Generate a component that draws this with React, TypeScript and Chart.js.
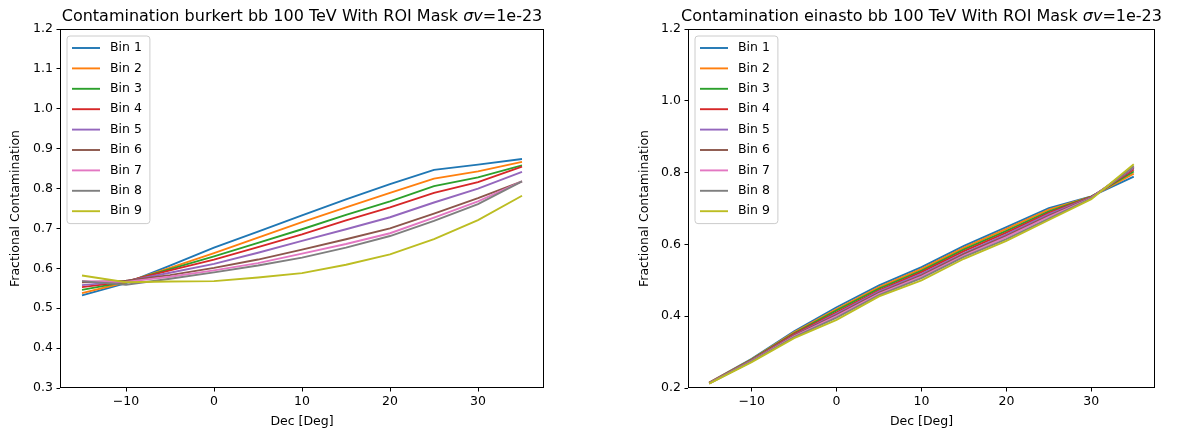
import React, { useEffect, useRef } from "react";
import { Chart, registerables } from "chart.js";

Chart.register(...registerables);

// ---- data ----
const decValues = [-15, -10, -5, 0, 5, 10, 15, 20, 25, 30, 35];
const xTicks = [-10, 0, 10, 20, 30];
const binLabels = ["Bin 1", "Bin 2", "Bin 3", "Bin 4", "Bin 5", "Bin 6", "Bin 7", "Bin 8", "Bin 9"];
const binColors = ["#1f77b4", "#ff7f0e", "#2ca02c", "#d62728", "#9467bd", "#8c564b", "#e377c2", "#7f7f7f", "#bcbd22"];

const burkertBin1 = [0.532, 0.563, 0.607, 0.652, 0.692, 0.733, 0.773, 0.811, 0.847, 0.860, 0.874];
const burkertBin2 = [0.538, 0.565, 0.601, 0.638, 0.677, 0.716, 0.753, 0.789, 0.825, 0.843, 0.867];
const burkertBin3 = [0.546, 0.566, 0.598, 0.630, 0.664, 0.698, 0.734, 0.768, 0.806, 0.828, 0.858];
const burkertBin4 = [0.553, 0.567, 0.595, 0.622, 0.653, 0.685, 0.720, 0.753, 0.789, 0.816, 0.855];
const burkertBin5 = [0.558, 0.568, 0.589, 0.611, 0.639, 0.669, 0.698, 0.728, 0.765, 0.800, 0.842];
const burkertBin6 = [0.565, 0.569, 0.583, 0.601, 0.622, 0.647, 0.673, 0.700, 0.737, 0.776, 0.818];
const burkertBin7 = [0.568, 0.566, 0.579, 0.595, 0.613, 0.637, 0.661, 0.688, 0.727, 0.768, 0.818];
const burkertBin8 = [0.568, 0.559, 0.574, 0.590, 0.607, 0.627, 0.652, 0.681, 0.719, 0.761, 0.818];
const burkertBin9 = [0.582, 0.565, 0.567, 0.568, 0.577, 0.588, 0.609, 0.635, 0.673, 0.721, 0.782];

const einastoBin1 = [0.215, 0.281, 0.358, 0.425, 0.486, 0.537, 0.596, 0.648, 0.701, 0.734, 0.789];
const einastoBin2 = [0.215, 0.280, 0.355, 0.420, 0.481, 0.532, 0.591, 0.643, 0.697, 0.733, 0.797];
const einastoBin3 = [0.214, 0.279, 0.352, 0.416, 0.477, 0.527, 0.586, 0.638, 0.692, 0.733, 0.803];
const einastoBin4 = [0.214, 0.278, 0.350, 0.411, 0.472, 0.523, 0.581, 0.633, 0.688, 0.732, 0.809];
const einastoBin5 = [0.214, 0.277, 0.347, 0.407, 0.469, 0.518, 0.576, 0.628, 0.684, 0.731, 0.813];
const einastoBin6 = [0.213, 0.276, 0.346, 0.404, 0.466, 0.514, 0.573, 0.624, 0.680, 0.730, 0.815];
const einastoBin7 = [0.213, 0.275, 0.344, 0.400, 0.462, 0.510, 0.569, 0.620, 0.677, 0.729, 0.817];
const einastoBin8 = [0.213, 0.274, 0.342, 0.396, 0.459, 0.506, 0.565, 0.615, 0.672, 0.728, 0.818];
const einastoBin9 = [0.212, 0.272, 0.339, 0.390, 0.455, 0.500, 0.560, 0.610, 0.668, 0.726, 0.823];

const burkertSeries = [burkertBin1, burkertBin2, burkertBin3, burkertBin4, burkertBin5, burkertBin6, burkertBin7, burkertBin8, burkertBin9];
const einastoSeries = [einastoBin1, einastoBin2, einastoBin3, einastoBin4, einastoBin5, einastoBin6, einastoBin7, einastoBin8, einastoBin9];

const FONT = "'DejaVu Sans', sans-serif";
const SMALL = 12.5;

type PanelProps = {
  profile: string;
  series: number[][];
  yMin: number;
  yMax: number;
  yStep: number;
  left: number;
  width: number;
  yAxisWidth: number;
  padRight: number;
  yTitlePad: number;
};

function Panel(p: PanelProps) {
  const ref = useRef<HTMLCanvasElement | null>(null);
  useEffect(() => {
    if (!ref.current) return;
    const overlay = {
      id: "mplOverlay",
      afterDraw(chart: any) {
        const ctx = chart.ctx as CanvasRenderingContext2D;
        const ca = chart.chartArea;
        ctx.save();
        // frame
        ctx.strokeStyle = "#000";
        ctx.lineWidth = 1;
        ctx.strokeRect(Math.round(ca.left) + 0.5, Math.round(ca.top) + 0.5, Math.round(ca.right - ca.left) - 1, Math.round(ca.bottom - ca.top) - 1);
        // legend
        ctx.font = `${SMALL}px ${FONT}`;
        let maxW = 0;
        binLabels.forEach((l) => (maxW = Math.max(maxW, ctx.measureText(l).width)));
        const bx = ca.left + 7;
        const by = ca.top + 7;
        const rowH = 20.4;
        const bw = 43 + maxW + 8;
        const bh = rowH * binLabels.length + 4;
        ctx.beginPath();
        const r = 3;
        ctx.moveTo(bx + r, by);
        ctx.lineTo(bx + bw - r, by);
        ctx.arcTo(bx + bw, by, bx + bw, by + r, r);
        ctx.lineTo(bx + bw, by + bh - r);
        ctx.arcTo(bx + bw, by + bh, bx + bw - r, by + bh, r);
        ctx.lineTo(bx + r, by + bh);
        ctx.arcTo(bx, by + bh, bx, by + bh - r, r);
        ctx.lineTo(bx, by + r);
        ctx.arcTo(bx, by, bx + r, by, r);
        ctx.closePath();
        ctx.fillStyle = "rgba(255,255,255,0.8)";
        ctx.fill();
        ctx.strokeStyle = "#cccccc";
        ctx.stroke();
        binLabels.forEach((l, i) => {
          const cy = by + 12 + i * rowH;
          ctx.strokeStyle = binColors[i];
          ctx.lineWidth = 1.9;
          ctx.beginPath();
          ctx.moveTo(bx + 5, cy);
          ctx.lineTo(bx + 33, cy);
          ctx.stroke();
          ctx.fillStyle = "#000";
          ctx.textBaseline = "middle";
          ctx.textAlign = "left";
          ctx.fillText(l, bx + 43, cy);
        });
        // title with italic sigma-v
        const pre = `Contamination ${p.profile} bb 100 TeV With ROI Mask `;
        const it = "\u03c3v";
        const post = "=1e-23";
        const normal = `16px ${FONT}`;
        const ital = `italic 16px ${FONT}`;
        ctx.font = normal;
        const w1 = ctx.measureText(pre).width;
        const w3 = ctx.measureText(post).width;
        ctx.font = ital;
        const w2 = ctx.measureText(it).width;
        const total = w1 + w2 + w3;
        let x = (ca.left + ca.right) / 2 - total / 2;
        const y = 20.5;
        ctx.fillStyle = "#000";
        ctx.textBaseline = "alphabetic";
        ctx.textAlign = "left";
        ctx.font = normal;
        ctx.fillText(pre, x, y);
        x += w1;
        ctx.font = ital;
        ctx.fillText(it, x, y);
        x += w2;
        ctx.font = normal;
        ctx.fillText(post, x, y);
        ctx.restore();
      },
    };
    const chart = new Chart(ref.current, {
      type: "line",
      data: {
        datasets: p.series.map((vals, i) => ({
          label: binLabels[i],
          data: decValues.map((d, j) => ({ x: d, y: vals[j] })),
          borderColor: binColors[i],
          backgroundColor: binColors[i],
          borderWidth: 1.9,
          pointRadius: 0,
          fill: false,
          tension: 0,
          order: p.series.length - 1 - i,
        })),
      },
      options: {
        responsive: false,
        animation: false,
        devicePixelRatio: 1,
        layout: { padding: { top: 29, right: p.padRight, bottom: 0, left: 0 } },
        plugins: { legend: { display: false }, tooltip: { enabled: false }, title: { display: false } },
        scales: {
          x: {
            type: "linear",
            min: -17.5,
            max: 37.5,
            afterBuildTicks: (s: any) => {
              s.ticks = xTicks.map((v) => ({ value: v }));
            },
            afterFit: (s: any) => {
              s.height = 47;
            },
            ticks: {
              autoSkip: false,
              maxRotation: 0,
              padding: 3,
              color: "#000",
              font: { family: FONT, size: SMALL },
              callback: (v: any) => (Number(v) < 0 ? "\u2212" + Math.abs(Number(v)) : String(v)),
            },
            grid: { drawOnChartArea: false, drawTicks: true, tickLength: 3.5, color: "#000", lineWidth: 1 },
            border: { display: false },
            title: { display: true, text: "Dec [Deg]", color: "#000", font: { family: FONT, size: SMALL }, padding: { top: 0, bottom: 5.5 } },
          },
          y: {
            type: "linear",
            min: p.yMin,
            max: p.yMax,
            afterFit: (s: any) => {
              s.width = p.yAxisWidth;
            },
            ticks: {
              stepSize: p.yStep,
              padding: 3.5,
              color: "#000",
              font: { family: FONT, size: SMALL },
              callback: (v: any) => Number(v).toFixed(1),
            },
            grid: { drawOnChartArea: false, drawTicks: true, tickLength: 3.5, color: "#000", lineWidth: 1 },
            border: { display: false },
            title: { display: true, text: "Fractional Contamination", color: "#000", font: { family: FONT, size: SMALL }, padding: { top: p.yTitlePad, bottom: 0 } },
          },
        },
      },
      plugins: [overlay],
    } as any);
    return () => chart.destroy();
  }, []);
  return (
    <canvas
      ref={ref}
      width={p.width}
      height={435}
      style={{ position: "absolute", left: p.left, top: 0, width: p.width, height: 435 }}
    />
  );
}

export default function App() {
  return (
    <div style={{ position: "fixed", left: 0, top: 0, width: 1183, height: 435, background: "#fff" }}>
      <Panel profile="burkert" series={burkertSeries} yMin={0.3} yMax={1.2} yStep={0.1} left={0} width={565} yAxisWidth={60} padRight={21} yTitlePad={8} />
      <Panel profile="einasto" series={einastoSeries} yMin={0.2} yMax={1.2} yStep={0.2} left={630} width={553} yAxisWidth={58} padRight={28} yTitlePad={7.5} />
    </div>
  );
}
